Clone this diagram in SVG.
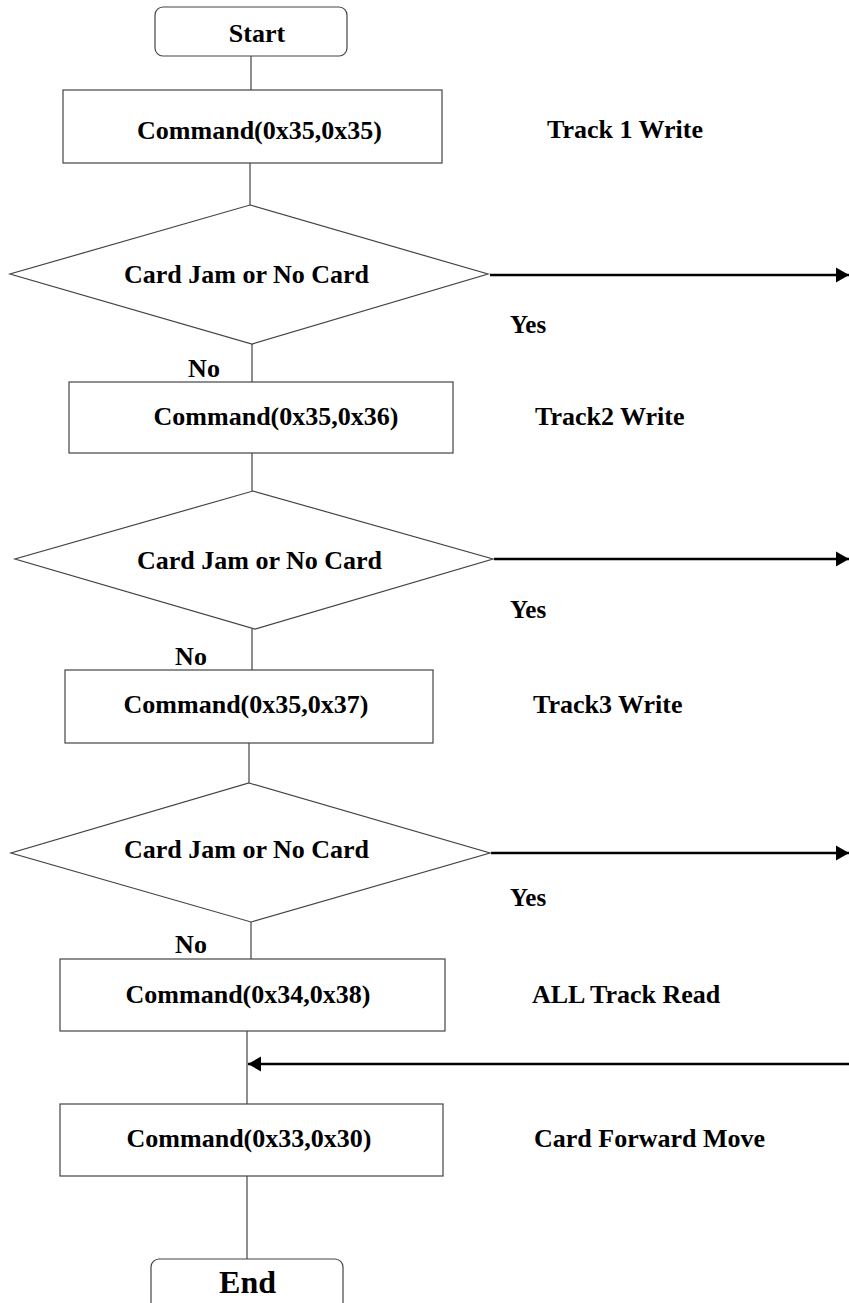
<svg xmlns="http://www.w3.org/2000/svg" width="849" height="1303" viewBox="0 0 849 1303">
<defs>
<marker id="ah" markerUnits="userSpaceOnUse" markerWidth="14" markerHeight="16" refX="13" refY="8" orient="auto">
<path d="M0,0.5 L13,8 L0,15.5 Z" fill="#000"/>
</marker>
<style>
.box{fill:#fff;stroke:#444;stroke-width:1.2}
.t{font-family:"Liberation Serif","Times New Roman",serif;font-weight:bold;font-size:26px;fill:#000}
.c{text-anchor:middle}
.ln{stroke:#444;stroke-width:1.2;fill:none}
.ar{stroke:#000;stroke-width:2.5;fill:none;marker-end:url(#ah)}
</style>
</defs>
<rect width="849" height="1303" fill="#fff"/>
<g id="connectors">
<line class="ln" x1="251" y1="56" x2="251" y2="90"/>
<line class="ln" x1="250" y1="163" x2="250" y2="205"/>
<line class="ln" x1="252" y1="344" x2="252" y2="382"/>
<line class="ln" x1="252" y1="453" x2="252" y2="491"/>
<line class="ln" x1="252" y1="629" x2="252" y2="670"/>
<line class="ln" x1="249" y1="743" x2="249" y2="783"/>
<line class="ln" x1="251" y1="922" x2="251" y2="959"/>
<line class="ln" x1="247" y1="1031" x2="247" y2="1104"/>
<line class="ln" x1="247" y1="1176" x2="247" y2="1259"/>
<line class="ar" x1="490" y1="275" x2="849" y2="275"/>
<line class="ar" x1="494" y1="559" x2="849" y2="559"/>
<line class="ar" x1="491" y1="853" x2="849" y2="853"/>
<line class="ar" x1="849" y1="1064" x2="248" y2="1064"/>
<text class="t" x="510" y="333" font-size="25" style="font-size:25px">Yes</text>
<text class="t" x="510" y="618" style="font-size:25px">Yes</text>
<text class="t" x="510" y="906" style="font-size:25px">Yes</text>
<text class="t c" x="204" y="377">No</text>
<text class="t c" x="191" y="665">No</text>
<text class="t c" x="191" y="953">No</text>
</g>
<g id="start">
<rect class="box" x="155" y="7" width="192" height="49" rx="8"/>
<text class="t c" x="257" y="42">Start</text>
</g>
<g id="cmd1">
<rect class="box" x="63" y="90" width="379" height="73"/>
<text class="t c" x="259.5" y="139">Command(0x35,0x35)</text>
</g>
<text id="lbl1" class="t" x="547" y="138">Track 1 Write</text>
<g id="dec1">
<polygon class="box" points="250,205 488,274 252,344 10,274"/>
<text class="t c" x="246.5" y="283">Card Jam or No Card</text>
</g>
<g id="cmd2">
<rect class="box" x="69" y="382" width="384" height="71"/>
<text class="t c" x="276" y="425">Command(0x35,0x36)</text>
</g>
<text id="lbl2" class="t" x="535" y="425">Track2 Write</text>
<g id="dec2">
<polygon class="box" points="253,491 493,559 255,629 15,559"/>
<text class="t c" x="259.5" y="569">Card Jam or No Card</text>
</g>
<g id="cmd3">
<rect class="box" x="65" y="670" width="368" height="73"/>
<text class="t c" x="246" y="713">Command(0x35,0x37)</text>
</g>
<text id="lbl3" class="t" x="533" y="713">Track3 Write</text>
<g id="dec3">
<polygon class="box" points="249,783 490,853 251,922 11,853"/>
<text class="t c" x="246.5" y="858">Card Jam or No Card</text>
</g>
<g id="cmd4">
<rect class="box" x="60" y="959" width="385" height="72"/>
<text class="t c" x="248" y="1003">Command(0x34,0x38)</text>
</g>
<text id="lbl4" class="t" x="532" y="1003">ALL Track Read</text>
<g id="cmd5">
<rect class="box" x="60" y="1104" width="383" height="72"/>
<text class="t c" x="249" y="1147">Command(0x33,0x30)</text>
</g>
<text id="lbl5" class="t" x="534" y="1147">Card Forward Move</text>
<g id="end">
<rect class="box" x="151" y="1259" width="192" height="60" rx="8"/>
<text class="t c" x="247.5" y="1293" style="font-size:32px">End</text>
</g>
</svg>
